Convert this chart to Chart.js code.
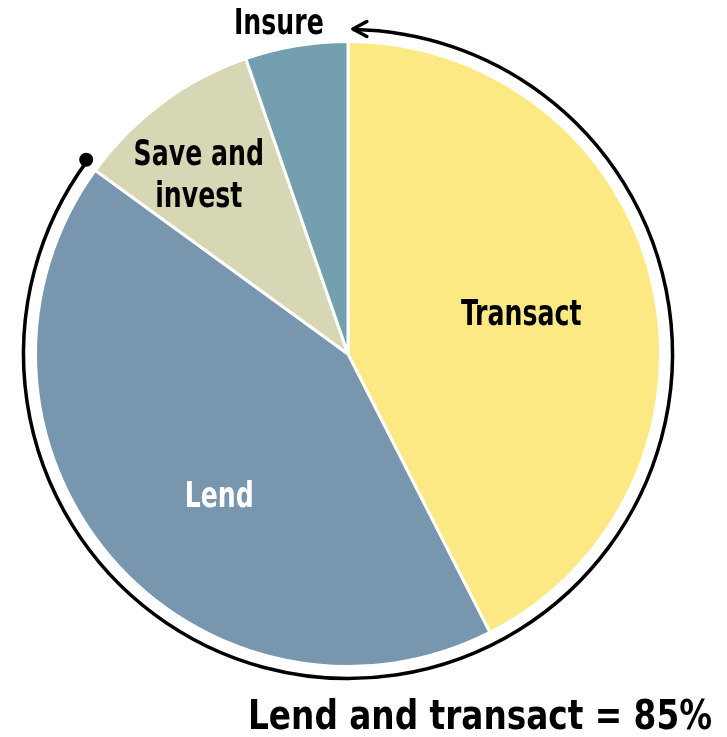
<!DOCTYPE html>
<html>
<head>
<meta charset="utf-8">
<script src="https://cdn.jsdelivr.net/npm/chart.js@4/dist/chart.umd.min.js"></script>
<style>
  html, body { margin: 0; padding: 0; background: #fff; }
  #wrap { position: relative; width: 727px; height: 737px; }
</style>
</head>
<body>
<div id="wrap"><canvas id="chart" width="727" height="737"></canvas></div>
<script>
const categories = ["Transact", "Lend", "Save and invest", "Insure"];
const shares = [42.5, 42.5, 9.7, 5.3];
const colors = ["#fce983", "#7896ae", "#d7d7b5", "#739fae"];
const labelLines = { "Transact": ["Transact"], "Lend": ["Lend"], "Save and invest": ["Save and", "invest"], "Insure": ["Insure"] };
const bracketText = "Lend and transact = 85%";

const FONT = '"DejaVu Sans Condensed", "Liberation Sans Narrow", Roboto, sans-serif';

// where each label sits: fraction of radius and angle tweak (degrees)
const place = {
  "Transact": { r: 0.57, da: 0, color: "#000" },
  "Lend": { r: 0.611, da: -7.1, color: "#fff" },
  "Save and invest": { r: 0.75, da: -3, color: "#000" },
  "Insure": { r: 1.087, da: -2.2, color: "#000" }
};

// draw text squeezed horizontally (narrow look)
function narrowText(ctx, text, x, y, sx) {
  ctx.save();
  ctx.translate(x, y);
  ctx.scale(sx, 1);
  ctx.fillText(text, 0, 0);
  ctx.restore();
}

const overlay = {
  id: "overlay",
  afterDraw(chart) {
    const ctx = chart.ctx;
    const arcs = chart.getDatasetMeta(0).data;
    const cx = arcs[0].x, cy = arcs[0].y, R = arcs[0].outerRadius;

    // labels
    ctx.save();
    ctx.font = 'bold 35px ' + FONT;
    ctx.textAlign = "center";
    ctx.textBaseline = "alphabetic";
    arcs.forEach((a, i) => {
      const name = categories[i];
      const p = place[name];
      const mid = (a.startAngle + a.endAngle) / 2 + p.da * Math.PI / 180;
      const x = cx + Math.cos(mid) * R * p.r;
      const y = cy + Math.sin(mid) * R * p.r;
      const lines = labelLines[name];
      ctx.fillStyle = p.color;
      lines.forEach((t, k) => {
        narrowText(ctx, t, x, y + 12.5 + (k - (lines.length - 1) / 2) * 42, 0.8);
      });
    });

    // bracket arc around Lend + Transact
    const rr = R + 12;
    const start = arcs[1].endAngle + 0.01;   // Lend / Save boundary
    const end = arcs[0].startAngle + 0.015;  // just past top
    ctx.strokeStyle = "#000";
    ctx.lineWidth = 3.5;
    ctx.beginPath();
    ctx.arc(cx, cy, rr, start, end + 2 * Math.PI, true);
    ctx.stroke();
    // dot at start
    ctx.fillStyle = "#000";
    ctx.beginPath();
    ctx.arc(cx + Math.cos(start) * (rr + 1.5), cy + Math.sin(start) * (rr + 1.5), 7, 0, 2 * Math.PI);
    ctx.fill();
    // arrow head at end pointing counter-clockwise (left at top)
    const ex = cx + Math.cos(end) * rr, ey = cy + Math.sin(end) * rr;
    ctx.lineWidth = 3.5;
    ctx.lineCap = "round";
    ctx.lineJoin = "round";
    ctx.beginPath();
    ctx.moveTo(ex + 14, ey - 8);
    ctx.lineTo(ex, ey - 0.5);
    ctx.lineTo(ex + 14, ey + 7);
    ctx.stroke();

    // bracket caption, fitted to its width in the original
    ctx.font = 'bold 40px ' + FONT;
    ctx.textAlign = "right";
    const w = ctx.measureText(bracketText).width;
    narrowText(ctx, bracketText, 712, 729, 464 / w);
    ctx.restore();
  }
};

new Chart(document.getElementById("chart"), {
  type: "pie",
  data: {
    labels: categories,
    datasets: [{
      data: shares,
      backgroundColor: colors,
      borderColor: "#fff",
      borderWidth: 3,
      hoverOffset: 0
    }]
  },
  options: {
    responsive: false,
    animation: false,
    layout: { padding: { left: 34, right: 65, top: 40, bottom: 69 } },
    plugins: { legend: { display: false }, tooltip: { enabled: false } }
  },
  plugins: [overlay]
});
</script>
</body>
</html>
